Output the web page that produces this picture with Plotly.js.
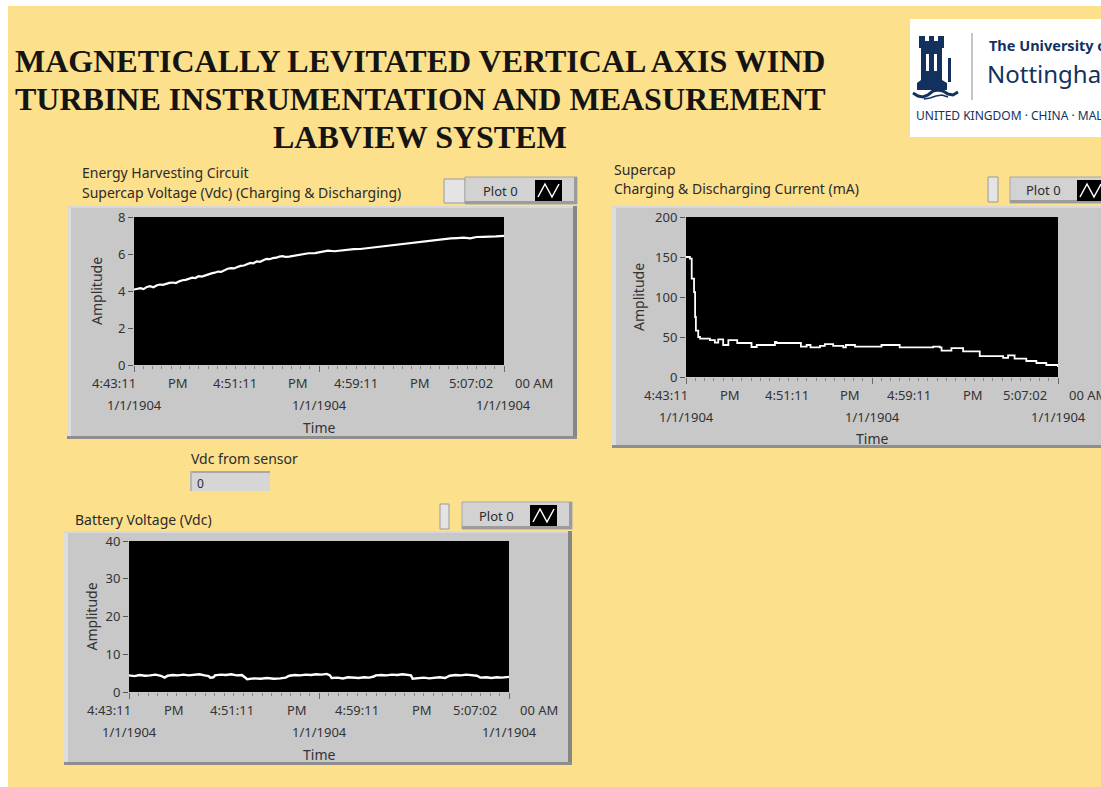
<!DOCTYPE html>
<html><head><meta charset="utf-8">
<script src="https://cdn.plot.ly/plotly-3.0.1.min.js"></script>
<style>html,body{margin:0;padding:0;background:#fff;overflow:hidden}#chart{width:1101px;height:787px}</style>
</head><body><div id="chart"></div>
<script>
// ---------- DATA ----------
const titleLines = ['MAGNETICALLY LEVITATED VERTICAL AXIS WIND', 'TURBINE INSTRUMENTATION AND MEASUREMENT', 'LABVIEW SYSTEM'];
const timeRowLabels = ['4:43:11', 'PM', '4:51:11', 'PM', '4:59:11', 'PM', '5:07:02', '00 AM'];
const dateRowLabels = ['1/1/1904', '1/1/1904', '1/1/1904'];
const axisTitleX = 'Time';
const axisTitleY = 'Amplitude';
const legendLabel = 'Plot 0';
const panel1Title = ['Energy Harvesting Circuit', 'Supercap Voltage (Vdc) (Charging & Discharging)'];
const panel2Title = ['Supercap', 'Charging & Discharging Current (mA)'];
const panel3Title = ['Battery Voltage (Vdc)'];
const sensorLabel = 'Vdc from sensor';
const sensorValue = '0';
const logoLine1 = 'The University of';
const logoLine2 = 'Nottingham';
const logoLine3 = 'UNITED KINGDOM \u00B7 CHINA \u00B7 MALAYSIA';

// seconds after 4:43:11 PM
const timeSpan = [0, 1431];
const voltTicks = [0, 2, 4, 6, 8];
const currentTicks = [0, 50, 100, 150, 200];
const batteryTicks = [0, 10, 20, 30, 40];

const supercapTime = [0,12,25,37,50,62,75,87,100,112,125,137,150,162,175,187,200,212,225,237,250,262,275,287,300,312,325,337,350,362,375,387,400,412,425,437,450,462,475,487,500,512,525,537,550,562,575,587,600,625,650,675,700,725,750,775,800,825,850,875,900,925,950,975,1000,1025,1050,1075,1100,1125,1150,1175,1200,1225,1250,1275,1300,1325,1350,1375,1400,1431];
const supercapVolt = [4.08,4.12,4.15,4.10,4.22,4.26,4.20,4.30,4.35,4.33,4.40,4.44,4.46,4.43,4.52,4.58,4.60,4.66,4.72,4.70,4.80,4.78,4.85,4.92,4.95,4.99,5.05,5.03,5.12,5.20,5.24,5.22,5.30,5.36,5.38,5.46,5.52,5.50,5.60,5.58,5.68,5.74,5.72,5.78,5.80,5.86,5.88,5.84,5.86,5.93,6.00,6.04,6.05,6.12,6.18,6.15,6.20,6.22,6.26,6.27,6.31,6.36,6.42,6.45,6.50,6.55,6.58,6.62,6.66,6.70,6.73,6.78,6.80,6.84,6.86,6.88,6.85,6.92,6.93,6.96,6.95,6.98];

const currentTime = [0,5,15,22,31,35,38,47,54,92,111,124,143,163,197,252,272,342,348,442,464,479,515,534,566,605,615,650,752,822,951,976,983,1021,1066,1130,1220,1239,1264,1309,1348,1386,1431];
const currentMA = [150,150,148,123,106,75,58,50,48,46,43,47,40,46,42.5,37.5,40,44,42.5,38,40,37,39,41,39,37,40,38,40,37,38,37,33,36,32,26,24,27,23,20,17.5,15,12.5];

const batteryTime = [0,20,40,60,80,100,120,134,146,165,185,205,225,245,265,285,300,306,318,324,345,365,385,405,425,436,445,470,495,520,545,570,590,604,625,645,665,685,705,725,745,757,763,785,805,825,845,865,885,905,922,929,950,970,990,1010,1030,1050,1062,1068,1090,1110,1130,1150,1170,1190,1202,1208,1230,1250,1270,1290,1310,1323,1345,1365,1385,1405,1431];
const batteryVolt = [4.4,4.2,4.5,4.3,4.4,4.6,4.3,3.8,4.3,4.5,4.4,4.6,4.4,4.5,4.7,4.4,4.2,3.8,3.9,4.4,4.6,4.5,4.7,4.4,4.5,3.9,3.4,3.6,3.5,3.7,3.5,3.6,3.8,4.3,4.5,4.4,4.6,4.5,4.7,4.6,4.8,4.4,3.7,3.8,3.6,3.9,3.8,3.7,3.9,3.8,4.1,4.4,4.5,4.4,4.6,4.5,4.7,4.5,4.4,3.5,3.7,3.8,3.6,3.8,3.9,3.7,4.0,4.3,4.5,4.4,4.6,4.5,4.3,3.8,3.9,3.7,3.9,3.8,4.0];

// ---------- LAYOUT HELPERS ----------
const W = 1101, H = 787;
const fx = x => x / W;
const fy = y => 1 - y / H;
const BG = '#FCE08C';
const PANEL = '#C8C8C8';
const TXT = '#2b2b2b';
const NAVY = '#13315F';
const FONT = 'Noto Sans, Open Sans, sans-serif';
const LBL = 14;   // LabVIEW label size
const TCK = 13;   // tick label size

const shapes = [];
const annotations = [];

function rectPx(x0, y0, x1, y1, fill, line) {
  shapes.push({type: 'rect', xref: 'paper', yref: 'paper', layer: 'below',
    x0: fx(x0), x1: fx(x1), y0: fy(y1), y1: fy(y0), fillcolor: fill,
    line: line || {width: 0}});
}
function pathPx(pts, close, fill, lineColor, lineWidth) {
  const d = pts.map((p, i) => (i ? 'L' : 'M') + fx(p[0]).toFixed(5) + ',' + fy(p[1]).toFixed(5)).join(' ') + (close ? ' Z' : '');
  shapes.push({type: 'path', xref: 'paper', yref: 'paper', layer: 'below', path: d,
    fillcolor: fill || 'rgba(0,0,0,0)', line: {color: lineColor || 'rgba(0,0,0,0)', width: lineWidth || 0}});
}
function textPx(x, y, text, opts) {
  opts = opts || {};
  annotations.push({xref: 'paper', yref: 'paper', x: fx(x), y: fy(y), text: text, showarrow: false,
    xanchor: opts.xanchor || 'left', yanchor: 'middle', textangle: opts.angle || 0,
    font: Object.assign({family: FONT, size: LBL, color: TXT}, opts.font || {})});
}

// page borders (white strips at left/top)
rectPx(0, 0, W, 6, '#FFFFFF');
rectPx(0, 0, 8, H, '#FFFFFF');

function panelFrame(b) {
  rectPx(b[0], b[1], b[2], b[3], PANEL);
  rectPx(b[0], b[1], b[0] + 4, b[3], '#DDDDDD');
  rectPx(b[0], b[1], b[2], b[1] + 2, '#D8D8D8');
  rectPx(b[2] - 4, b[1], b[2], b[3], '#868686');
  rectPx(b[0], b[3] - 3, b[2], b[3], '#8E8E8E');
}
function legendWidget(slot, box, icon, label) {
  rectPx(slot[0], slot[1], slot[2], slot[3], '#E4E4E4', {color: '#9A9A9A', width: 1});
  rectPx(box[0], box[1], box[2], box[3], '#D2D2D2', {color: '#A8A8A8', width: 1});
  rectPx(box[0], box[3] - 3, box[2], box[3], '#9C9C9C');
  rectPx(box[2] - 3, box[1], box[2], box[3], '#9C9C9C');
  rectPx(icon[0], icon[1], icon[2], icon[3], '#000000');
  const ix0 = icon[0] + 3, ix1 = icon[2] - 3, iy0 = icon[1] + 4, iy1 = icon[3] - 4, w = (ix1 - ix0) / 3;
  pathPx([[ix0, iy1], [ix0 + w, iy0], [ix0 + 2 * w, iy1], [ix1, iy0]], false, null, '#FFFFFF', 1.5);
  textPx((box[0] + icon[0]) / 2, (box[1] + box[3]) / 2, label, {xanchor: 'center', font: {size: 13}});
}

// panels: [plot box px], [frame px]
const panels = [
  {plot: [134, 217, 504, 365], frame: [67, 206, 577, 439], ticks: voltTicks, range: [0, 8], ytShift: -38,
   x: supercapTime, y: supercapVolt, width: 2.2, shape: 'linear', title: panel1Title, titlePos: [80, 172],
   slot: [444, 179, 465, 203], box: [465, 177, 577, 204], icon: [535, 180, 562, 201]},
  {plot: [686, 217, 1058, 377], frame: [612, 206, 1112, 448], ticks: currentTicks, range: [0, 200], ytShift: -47,
   x: currentTime, y: currentMA, width: 1.8, shape: 'hv', title: panel2Title, titlePos: [612, 169],
   slot: [988, 177, 998, 202], box: [1010, 177, 1112, 203], icon: [1077, 180, 1104, 201]},
  {plot: [129, 541, 509, 692], frame: [64, 531, 572, 765], ticks: batteryTicks, range: [0, 40], ytShift: -38,
   x: batteryTime, y: batteryVolt, width: 2.4, shape: 'linear', title: panel3Title, titlePos: [73, 519],
   slot: [440, 504, 449, 529], box: [462, 502, 572, 529], icon: [530, 505, 557, 526]}
];

const rowFractions = [-0.053, 0.118, 0.272, 0.442, 0.600, 0.772, 0.910, 1.08];
const dateFractions = [0, 0.5, 1.0];

const layout = {
  width: W, height: H, margin: {l: 0, r: 0, t: 0, b: 0},
  paper_bgcolor: BG, plot_bgcolor: '#000000', showlegend: false,
  font: {family: FONT, size: 12, color: TXT}
};
const traces = [];

panels.forEach((p, i) => {
  const n = i === 0 ? '' : String(i + 1);
  const xa = 'x' + n, ya = 'y' + n;
  panelFrame(p.frame);
  legendWidget(p.slot, p.box, p.icon, legendLabel);
  p.title.forEach((t, k) => textPx(p.titlePos[0], p.titlePos[1] + 20 * k, t));
  // black plot area
  shapes.push({type: 'rect', xref: xa + ' domain', yref: ya + ' domain', layer: 'below',
    x0: 0, x1: 1, y0: 0, y1: 1, fillcolor: '#000000', line: {width: 0}});
  layout['xaxis' + n] = {
    domain: [fx(p.plot[0]), fx(p.plot[2])], anchor: ya, range: timeSpan,
    showgrid: false, zeroline: false, showline: false, showticklabels: false,
    tickmode: 'array', tickvals: [timeSpan[0], (timeSpan[0] + timeSpan[1]) / 2, timeSpan[1]],
    ticks: 'outside', ticklen: 6, tickwidth: 1, tickcolor: '#6a6a6a',
    minor: {tickmode: 'linear', tick0: 0, dtick: (timeSpan[1] - timeSpan[0]) / 40, ticks: 'outside', ticklen: 3, tickcolor: '#8a8a8a', showgrid: false},
    fixedrange: true
  };
  layout['yaxis' + n] = {
    domain: [fy(p.plot[3]), fy(p.plot[1])], anchor: xa, range: p.range,
    showgrid: false, zeroline: false, showline: false,
    tickmode: 'array', tickvals: p.ticks, ticks: 'outside', ticklen: 5, tickcolor: '#555',
    tickfont: {family: FONT, size: TCK, color: '#333'}, fixedrange: true
  };
  traces.push({type: 'scatter', mode: 'lines', x: p.x, y: p.y, xaxis: xa, yaxis: ya,
    line: {color: '#FFFFFF', width: p.width, shape: p.shape}, hoverinfo: 'skip', cliponaxis: true});
  // tick label rows
  timeRowLabels.forEach((t, k) => annotations.push({xref: xa + ' domain', yref: ya + ' domain',
    x: rowFractions[k], y: 0, yshift: -18, xanchor: 'center', yanchor: 'middle', showarrow: false, text: t,
    font: {family: FONT, size: TCK, color: '#333'}}));
  dateRowLabels.forEach((t, k) => annotations.push({xref: xa + ' domain', yref: ya + ' domain',
    x: dateFractions[k], y: 0, yshift: -40, xanchor: 'center', yanchor: 'middle', showarrow: false, text: t,
    font: {family: FONT, size: TCK, color: '#333'}}));
  annotations.push({xref: xa + ' domain', yref: ya + ' domain', x: 0.5, y: 0, yshift: -62,
    xanchor: 'center', yanchor: 'middle', showarrow: false, text: axisTitleX, font: {family: FONT, size: LBL, color: '#333'}});
  annotations.push({xref: xa + ' domain', yref: ya + ' domain', x: 0, y: 0.5, xshift: p.ytShift,
    xanchor: 'center', yanchor: 'middle', showarrow: false, text: axisTitleY, textangle: -90,
    font: {family: FONT, size: LBL, color: '#333'}});
});

// sensor indicator
textPx(189, 458, sensorLabel);
rectPx(190, 471, 270, 491, '#D6D6D6');
rectPx(190, 471, 270, 473, '#A9A9A9');
rectPx(190, 471, 192, 491, '#B5B5B5');
textPx(195, 483, sensorValue, {font: {size: 12}});

// main title
titleLines.forEach((t, k) => textPx(420, 61 + 38 * k, t, {xanchor: 'center',
  font: {family: 'Liberation Serif, Times New Roman, serif', size: 32, color: '#141414', weight: 700}}));

// university logo
rectPx(910, 19, 1112, 137, '#FFFFFF');
pathPx([[917,90],[917,83],[921,80],[921,48],[919,48],[919,36],[925,36],[925,41],[929,41],[929,36],[934,36],[934,41],[938,41],[938,36],[944,36],[944,48],[942,48],[942,80],[947,83],[947,90]], true, NAVY);
rectPx(926, 54, 929, 71, '#FFFFFF');
rectPx(934, 54, 937, 71, '#FFFFFF');
rectPx(948, 58, 951, 82, NAVY);
pathPx([[913,93],[918,96],[923,97],[928,95],[933,91],[938,90],[943,91],[948,94],[953,95],[958,92]], false, null, NAVY, 3);
pathPx([[924,99],[930,98],[936,96],[942,95],[948,97]], false, null, NAVY, 1.5);
rectPx(971.5, 33, 972.5, 100, '#8C8C8C');
textPx(987, 45, logoLine1, {font: {family: 'Noto Sans, sans-serif', size: 14.5, color: NAVY, weight: 700}});
textPx(985, 74, logoLine2, {font: {family: 'Noto Sans, sans-serif', size: 24, color: NAVY}});
textPx(914, 115, logoLine3, {font: {family: 'Noto Sans, sans-serif', size: 12, color: NAVY}});

layout.shapes = shapes;
layout.annotations = annotations;
Plotly.newPlot('chart', traces, layout, {displayModeBar: false, staticPlot: true});
</script></body></html>
